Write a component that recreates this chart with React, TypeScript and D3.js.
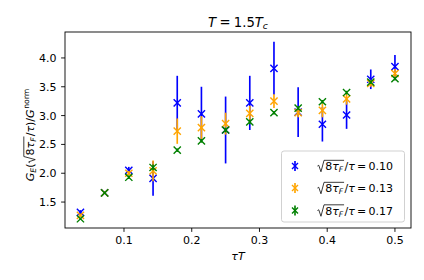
import React, { useLayoutEffect, useRef, useState } from "react";
import * as d3 from "d3";

const FONT = "DejaVu Sans";

// tau*T positions (n/28)
const tauT = [0.0357, 0.0714, 0.1071, 0.1429, 0.1786, 0.2143, 0.25, 0.2857, 0.3214, 0.3571, 0.3929, 0.4286, 0.4643, 0.5];

const blueVals = [1.32, 1.66, 2.05, 1.91, 3.22, 3.03, 2.75, 3.22, 3.82, 3.06, 2.85, 3.01, 3.63, 3.85];
const blueErr = [0.04, 0.02, 0.06, 0.3, 0.47, 0.47, 0.58, 0.47, 0.46, 0.43, 0.3, 0.24, 0.17, 0.2];
const orangeVals = [1.27, 1.66, 2.0, 2.04, 2.73, 2.79, 2.86, 3.04, 3.25, 3.05, 3.09, 3.29, 3.56, 3.73];
const orangeErr = [0.03, 0.02, 0.04, 0.18, 0.22, 0.2, 0.19, 0.13, 0.12, 0.08, 0.12, 0.1, 0.06, 0.08];
const greenVals = [1.21, 1.66, 1.93, 2.1, 2.4, 2.56, 2.75, 2.89, 3.05, 3.13, 3.24, 3.4, 3.58, 3.64];
const greenErr = [0.02, 0.02, 0.03, 0.05, 0.03, 0.03, 0.04, 0.04, 0.03, 0.03, 0.03, 0.03, 0.03, 0.03];

const seriesNames = ["0.10", "0.13", "0.17"];
const seriesColors = ["#0000ff", "#ffa500", "#008000"];

const xTicks = [0.1, 0.2, 0.3, 0.4, 0.5];
const yTicks = [1.5, 2.0, 2.5, 3.0, 3.5, 4.0];

type Part = { t: string; it?: boolean; sub?: boolean; sup?: boolean; rs?: boolean; re?: boolean; dx?: number };

function MathText(props: {
  x: number;
  y: number;
  parts: Part[];
  fontSize: number;
  anchor?: string;
  rotate?: number;
}) {
  const { x, y, parts, fontSize, anchor = "start", rotate = 0 } = props;
  const startRef = useRef<SVGTSpanElement | null>(null);
  const endRef = useRef<SVGTSpanElement | null>(null);
  const [rad, setRad] = useState<string | null>(null);
  const hasRad = parts.some((p) => p.rs);
  const gap = 0.74 * fontSize;

  useLayoutEffect(() => {
    if (!hasRad) return;
    const measure = () => {
      const s = startRef.current;
      const e = endRef.current;
      if (!s || !e) return;
      const p0 = s.getStartPositionOfChar(0);
      const n = e.getNumberOfChars();
      const p1 = e.getEndPositionOfChar(n - 1);
      const fs = fontSize;
      const sx = p0.x - gap + 0.04 * fs;
      const top = -0.88 * fs;
      const d = `M${sx},${-0.36 * fs} L${sx + 0.12 * fs},${-0.43 * fs} L${sx + 0.32 * fs},${0.16 * fs} L${sx + 0.6 * fs},${top} L${p1.x + 0.08 * fs},${top}`;
      setRad(d);
    };
    measure();
    if ((document as any).fonts && (document as any).fonts.ready) {
      (document as any).fonts.ready.then(measure);
    }
  }, []);

  let shift = 0;
  const spans = parts.map((p, i) => {
    const target = p.sub ? 0.22 * fontSize : p.sup ? -0.4 * fontSize : 0;
    const dy = target - shift;
    shift = target;
    const fs = p.sub || p.sup ? fontSize * 0.7 : fontSize;
    const dx = p.rs ? gap : p.sup ? 0.05 * fontSize : p.dx !== undefined ? p.dx * fontSize : undefined;
    return (
      <tspan
        key={i}
        ref={p.rs ? startRef : p.re ? endRef : undefined}
        dy={dy !== 0 ? dy : undefined}
        dx={dx}
        fontStyle={p.it ? "italic" : "normal"}
        fontSize={fs}
      >
        {p.t}
      </tspan>
    );
  });

  return (
    <g transform={`translate(${x},${y}) rotate(${rotate})`}>
      <text x={0} y={0} textAnchor={anchor} fontFamily={FONT} fontSize={fontSize} fill="#000" style={{ whiteSpace: "pre" }}>
        {spans}
      </text>
      {rad && <path d={rad} fill="none" stroke="#000" strokeWidth={0.07 * fontSize} />}
    </g>
  );
}

const yLabelParts: Part[] = [
  { t: "G", it: true },
  { t: "E", it: true, sub: true },
  { t: "(" },
  { t: "8", rs: true },
  { t: "τ", it: true },
  { t: "F", it: true, sub: true, re: true },
  { t: "/", dx: 0.1 },
  { t: "τ", it: true },
  { t: ")/" },
  { t: "G", it: true },
  { t: "norm", sup: true },
];

const legendParts = (v: string): Part[] => [
  { t: "8", rs: true },
  { t: "τ", it: true },
  { t: "F", it: true, sub: true, re: true },
  { t: "/", dx: 0.12 },
  { t: "τ", it: true },
  { t: "=", dx: 0.2 },
  { t: v, dx: 0.2 },
];

const titleParts: Part[] = [
  { t: "T", it: true },
  { t: "=", dx: 0.25 },
  { t: "1.5", dx: 0.25 },
  { t: "T", it: true },
  { t: "c", it: true, sub: true },
];

const xLabelParts: Part[] = [{ t: "τ", it: true }, { t: "T", it: true }];

function XMark({ cx, cy, color, r = 3.6 }: { cx: number; cy: number; color: string; r?: number }) {
  return (
    <path
      d={`M${cx - r},${cy - r} L${cx + r},${cy + r} M${cx - r},${cy + r} L${cx + r},${cy - r}`}
      stroke={color}
      strokeWidth={1.4}
      fill="none"
    />
  );
}

export default function App() {
  const left = 65,
    right = 411,
    top = 32,
    bottom = 228;
  const x = d3.scaleLinear().domain([0.0129, 0.5237]).range([left, right]);
  const y = d3.scaleLinear().domain([1.05, 4.45]).range([bottom, top]);

  const series = [
    { vals: blueVals, err: blueErr, color: seriesColors[0] },
    { vals: orangeVals, err: orangeErr, color: seriesColors[1] },
    { vals: greenVals, err: greenErr, color: seriesColors[2] },
  ];

  const legendY = [166, 188, 210.5];
  const fs = 11;

  return (
    <svg width={424} height={280} style={{ position: "absolute", left: 0, top: 0, background: "#fff" }}>
      <rect x={0} y={0} width={424} height={280} fill="#fff" />
      {/* data */}
      {series.map((s, si) => (
        <g key={si}>
          {s.vals.map((v, i) => (
            <line
              key={"e" + i}
              x1={x(tauT[i])}
              x2={x(tauT[i])}
              y1={y(v - s.err[i])}
              y2={y(v + s.err[i])}
              stroke={s.color}
              strokeWidth={1.65}
            />
          ))}
          {s.vals.map((v, i) => (
            <XMark key={"m" + i} cx={x(tauT[i])} cy={y(v)} color={s.color} />
          ))}
        </g>
      ))}
      {/* spines */}
      <rect x={left} y={top} width={right - left} height={bottom - top} fill="none" stroke="#000" strokeWidth={0.9} />
      {/* x ticks */}
      {xTicks.map((t) => (
        <g key={"x" + t}>
          <line x1={x(t)} x2={x(t)} y1={bottom} y2={bottom + 3.9} stroke="#000" strokeWidth={0.9} />
          <text x={x(t)} y={bottom + 16.3} textAnchor="middle" fontFamily={FONT} fontSize={fs} fill="#000">
            {d3.format(".1f")(t)}
          </text>
        </g>
      ))}
      {/* y ticks */}
      {yTicks.map((t) => (
        <g key={"y" + t}>
          <line x1={left - 3.9} x2={left} y1={y(t)} y2={y(t)} stroke="#000" strokeWidth={0.9} />
          <text x={left - 8.5} y={y(t) + 4} textAnchor="end" fontFamily={FONT} fontSize={fs} fill="#000">
            {d3.format(".1f")(t)}
          </text>
        </g>
      ))}
      {/* labels */}
      <MathText x={238} y={26.5} parts={titleParts} fontSize={13.2} anchor="middle" />
      <MathText x={238} y={259.5} parts={xLabelParts} fontSize={fs} anchor="middle" />
      <MathText x={33.5} y={135} parts={yLabelParts} fontSize={fs} anchor="middle" rotate={-90} />
      {/* legend */}
      <rect x={281.5} y={151} width={123} height={71} rx={2.5} fill="#fff" fillOpacity={0.8} stroke="#cccccc" strokeWidth={0.9} />
      {seriesNames.map((n, i) => (
        <g key={"l" + i}>
          <line x1={295} x2={295} y1={legendY[i] - 5} y2={legendY[i] + 5} stroke={seriesColors[i]} strokeWidth={1.65} />
          <XMark cx={295} cy={legendY[i]} color={seriesColors[i]} r={3} />
          <MathText x={317} y={legendY[i] + 4} parts={legendParts(n)} fontSize={fs} />
        </g>
      ))}
    </svg>
  );
}
